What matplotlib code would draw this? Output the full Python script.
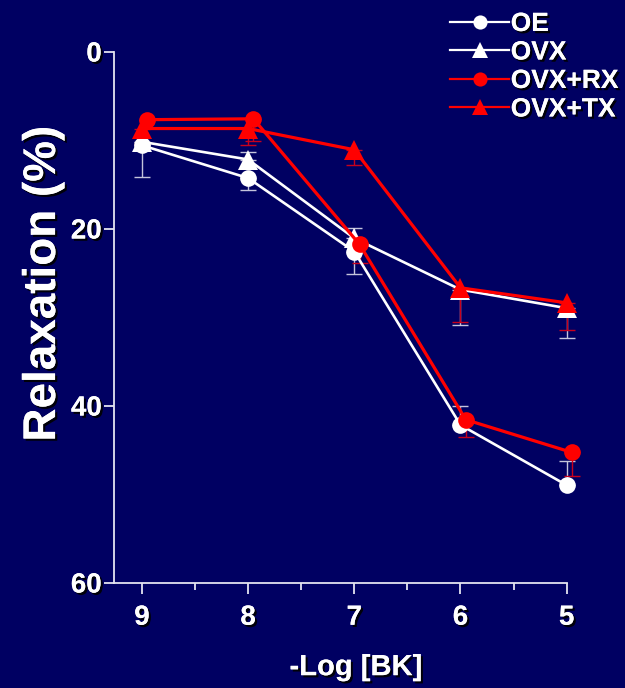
import matplotlib
matplotlib.use("Agg")
import matplotlib.pyplot as plt
import matplotlib.patheffects as pe

# Bradykinin concentration (-log M)
log_bk = [9, 8, 7, 6, 5]

# Mean relaxation (%) for each group
oe = [10.6, 14.3, 22.6, 42.2, 49.0]
ovx = [10.2, 12.2, 21.1, 26.9, 29.0]
ovx_rx = [7.7, 7.6, 21.8, 41.6, 45.3]
ovx_tx = [8.7, 8.7, 11.1, 26.7, 28.4]

# SEM drawn toward smaller values (up) and larger values (down)
oe_err_up = [0, 0, 0, 2.1, 2.7]
oe_err_dn = [3.6, 1.4, 2.5, 0, 0]
ovx_err_up = [0, 0.8, 1.2, 0, 0]
ovx_err_dn = [0, 0, 0, 4.0, 3.4]
ovx_rx_err_up = [0, 0, 0, 0, 0]
ovx_rx_err_dn = [0.9, 2.5, 2.1, 1.9, 2.7]
ovx_tx_err_up = [0, 0, 0, 0, 0]
ovx_tx_err_dn = [1.7, 1.9, 1.7, 3.9, 3.1]

labels = ["OE", "OVX", "OVX+RX", "OVX+TX"]
y_ticks = [0, 20, 40, 60]
x_ticks = [9, 8, 7, 6, 5]

BG = "#000062"
FG = "white"
RED = "#ff0000"

plt.rcParams["font.family"] = ["Liberation Sans", "DejaVu Sans"]
plt.rcParams["font.weight"] = "bold"

shadow = [pe.withSimplePatchShadow(offset=(1.6, -1.6), shadow_rgbFace="black", alpha=0.9),
          pe.Normal()]

fig = plt.figure(figsize=(6.25, 6.88), dpi=100, facecolor=BG)
ax = fig.add_axes([0.1829, 0.1533, 0.7238, 0.7718], facecolor=BG)

series = [
    (oe, oe_err_up, oe_err_dn, "o", FG, "#c4c4dc", 1.9, 0.0, 12),
    (ovx, ovx_err_up, ovx_err_dn, "^", FG, "#c4c4dc", 1.9, 0.0, 14),
    (ovx_rx, ovx_rx_err_up, ovx_rx_err_dn, "o", RED, "#c8001c", 2.3, -0.05, 12),
    (ovx_tx, ovx_tx_err_up, ovx_tx_err_dn, "^", RED, "#c8001c", 2.3, 0.0, 14),
]

handles = []
for i, (vals, eup, edn, mk, col, ecol, lw, dx, ms) in enumerate(series):
    xs = [x + dx for x in log_bk]
    eb = ax.errorbar(xs, vals, yerr=[eup, edn], fmt="none", ecolor=ecol,
                     elinewidth=1.0, capsize=6, capthick=1.0, zorder=2 + i)
    for art in eb.lines[1] + eb.lines[2]:
        art.set_clip_on(False)
    line, = ax.plot(xs, vals, color=col, lw=lw, marker=mk, markersize=ms,
                    markeredgewidth=0, markerfacecolor=col, zorder=6 + i,
                    label=labels[i], clip_on=False)
    handles.append(line)

ax.set_xlim(9.26, 5.0)
ax.set_ylim(60, 0)
ax.set_xticks(x_ticks)
ax.set_xticks([8.5, 7.5, 6.5, 5.5], minor=True)
ax.set_yticks(y_ticks)
ax.set_xticklabels([str(v) for v in x_ticks])
ax.set_yticklabels([str(v) for v in y_ticks])

for side in ("top", "right"):
    ax.spines[side].set_visible(False)
for side in ("left", "bottom"):
    ax.spines[side].set_color("#e4e4f0")
    ax.spines[side].set_linewidth(1.3)

ax.tick_params(axis="both", colors="#e4e4f0", width=1.3, labelcolor=FG,
               labelsize=20)
ax.tick_params(axis="y", length=7, pad=2)
ax.tick_params(axis="x", which="major", length=8, pad=8)
ax.tick_params(axis="x", which="minor", length=5, width=1.3, colors="#e4e4f0")

for lab in ax.get_xticklabels() + ax.get_yticklabels():
    lab.set_fontweight("bold")
    lab.set_path_effects(shadow)

ax.set_ylabel("Relaxation (%)", fontsize=33, fontweight="bold", color=FG,
              va="baseline")
ax.yaxis.set_label_coords(-0.131, 0.563)
ax.yaxis.label.set_path_effects(shadow)

ax.set_xlabel("-Log [BK]", fontsize=21, fontweight="bold", color=FG, va="top")
ax.xaxis.set_label_coords(0.534, -0.133)
ax.xaxis.label.set_path_effects(shadow)

leg = fig.legend(handles=handles, loc="upper left",
                 bbox_to_anchor=(450 / 625, 1 - 12 / 688),
                 frameon=False, fontsize=19, handlelength=2.25,
                 handletextpad=0.05, labelspacing=0.17, borderpad=0,
                 borderaxespad=0, markerscale=0.85)
for txt in leg.get_texts():
    txt.set_color(FG)
    txt.set_fontweight("bold")
    txt.set_path_effects(shadow)
for h in leg.legend_handles:
    h.set_linewidth(1.6)

fig.savefig("out.png", dpi=100, facecolor=BG)
